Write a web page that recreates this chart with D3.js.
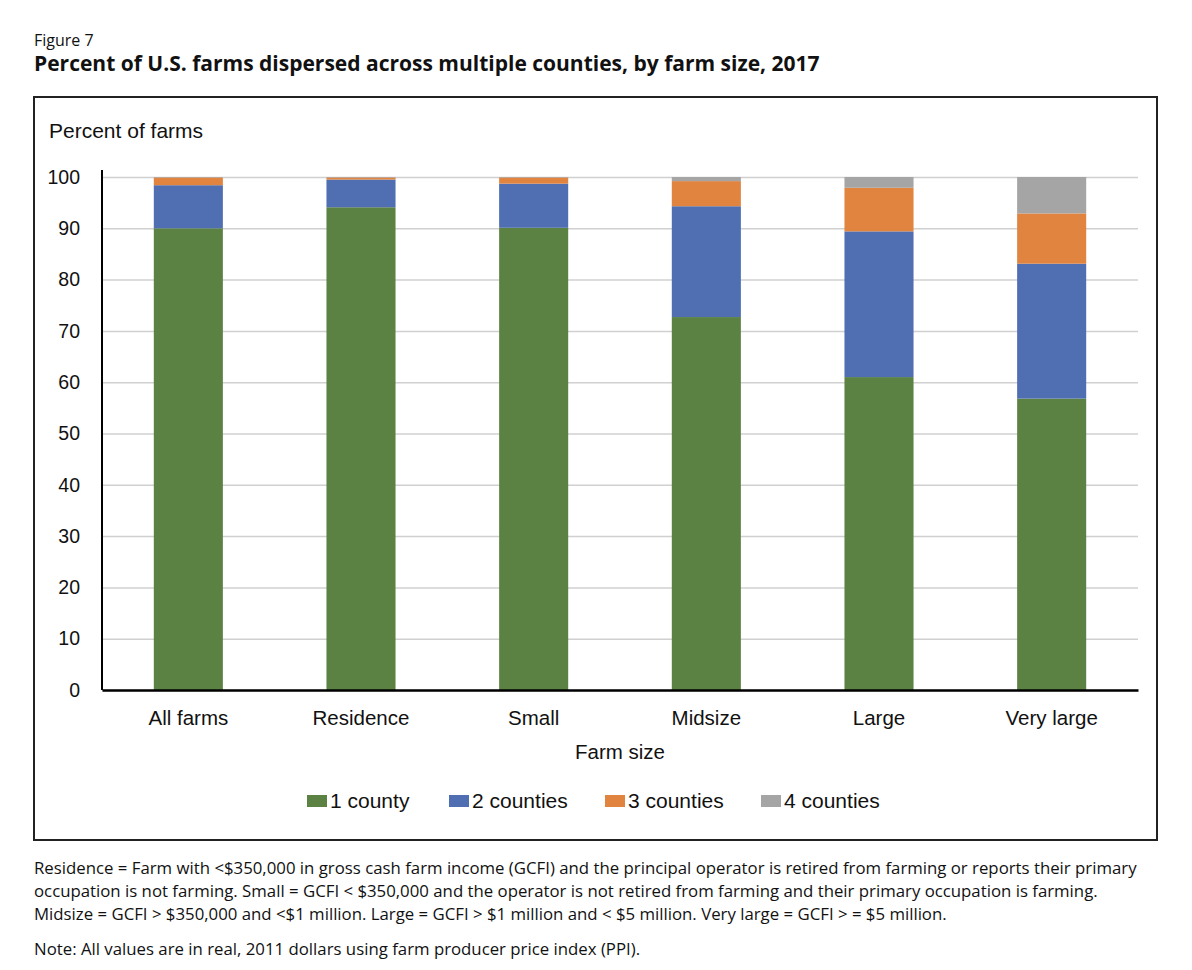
<!DOCTYPE html>
<html>
<head>
<meta charset="utf-8">
<script src="https://cdn.jsdelivr.net/npm/d3@7"></script>
<style>
  body { margin: 0; background: #fff; }
  svg { display: block; }
  .chart-text { font-family: "Liberation Sans", Arial, sans-serif; fill: #111; }
  .doc-text { font-family: "Open Sans", Lato, sans-serif; fill: #111; }
</style>
</head>
<body>
<svg id="chart" width="1192" height="970"></svg>
<script>
const categories = ['All farms', 'Residence', 'Small', 'Midsize', 'Large', 'Very large'];
const seriesNames = ['1 county', '2 counties', '3 counties', '4 counties'];
const oneCounty = [90.0, 94.1, 90.1, 72.7, 61.0, 56.8];
const twoCounties = [8.4, 5.4, 8.6, 21.6, 28.4, 26.3];
const threeCounties = [1.5, 0.4, 1.2, 4.9, 8.5, 9.8];
const fourCounties = [0.1, 0.1, 0.1, 0.8, 2.1, 7.1];
const yTicks = [0, 10, 20, 30, 40, 50, 60, 70, 80, 90, 100];
const colors = ['#5c8243', '#4f6fb2', '#e0843f', '#a5a5a5'];

const notes = [
  'Residence = Farm with <$350,000 in gross cash farm income (GCFI) and the principal operator is retired from farming or reports their primary',
  'occupation is not farming. Small = GCFI < $350,000 and the operator is not retired from farming and their primary occupation is farming.',
  'Midsize = GCFI > $350,000 and <$1 million. Large = GCFI > $1 million and < $5 million. Very large = GCFI > = $5 million.'
];
const note = 'Note: All values are in real, 2011 dollars using farm producer price index (PPI).';

const table = categories.map((c, i) => ({
  category: c,
  '1 county': oneCounty[i],
  '2 counties': twoCounties[i],
  '3 counties': threeCounties[i],
  '4 counties': fourCounties[i]
}));

const svg = d3.select('#chart');

// header
svg.append('text').attr('class', 'doc-text')
  .attr('x', 34).attr('y', 46)
  .attr('font-size', 16)
  .text('Figure 7');

svg.append('text').attr('class', 'doc-text')
  .attr('x', 34).attr('y', 71)
  .attr('font-size', 21).attr('font-weight', 'bold')
  .text('Percent of U.S. farms dispersed across multiple counties, by farm size, 2017');

// frame
svg.append('rect')
  .attr('x', 34).attr('y', 97)
  .attr('width', 1123).attr('height', 743)
  .attr('fill', 'none').attr('stroke', '#222').attr('stroke-width', 2);

const margin = { top: 177, right: 1192 - 1138, bottom: 970 - 690, left: 102 };
const innerWidth = 1192 - margin.left - margin.right;
const innerHeight = 970 - margin.top - margin.bottom;

const xScale = d3.scaleBand()
  .domain(categories)
  .range([0, innerWidth])
  .paddingInner(0.6)
  .paddingOuter(0.3);

const yScale = d3.scaleLinear()
  .domain([0, 100])
  .range([innerHeight, 0]);

const g = svg.append('g')
  .attr('transform', `translate(${margin.left}, ${margin.top})`);

// gridlines
const yAxis = d3.axisLeft(yScale)
  .tickValues(yTicks)
  .tickSize(-innerWidth)
  .tickPadding(22);

const yAxisG = g.append('g').call(yAxis);
yAxisG.select('.domain').remove();
yAxisG.selectAll('line')
  .attr('stroke', '#d0d0d0')
  .attr('stroke-width', 1.5);
yAxisG.selectAll('text')
  .attr('class', 'chart-text')
  .attr('font-size', 19.5)
  .attr('fill', '#111');

// stacked bars
const stack = d3.stack().keys(seriesNames);
const layers = stack(table);

g.selectAll('.layer')
  .data(layers)
  .enter().append('g')
    .attr('class', 'layer')
    .attr('fill', (d, i) => colors[i])
  .selectAll('rect')
  .data(d => d)
  .enter().append('rect')
    .attr('x', d => xScale(d.data.category))
    .attr('y', d => yScale(d[1]))
    .attr('width', xScale.bandwidth())
    .attr('height', d => yScale(d[0]) - yScale(d[1]));

// axis lines
g.append('line')
  .attr('x1', 0).attr('x2', 0)
  .attr('y1', -7).attr('y2', innerHeight)
  .attr('stroke', '#000').attr('stroke-width', 2);

const xAxis = d3.axisBottom(xScale)
  .tickSize(0)
  .tickPadding(20);

const xAxisG = g.append('g')
  .attr('transform', `translate(0, ${innerHeight})`)
  .call(xAxis);
xAxisG.select('.domain')
  .attr('stroke', '#000').attr('stroke-width', 2.5);
xAxisG.selectAll('text')
  .attr('class', 'chart-text')
  .attr('font-size', 20.5)
  .attr('fill', '#111');

// axis titles
svg.append('text').attr('class', 'chart-text')
  .attr('x', 49).attr('y', 138)
  .attr('font-size', 21)
  .text('Percent of farms');

svg.append('text').attr('class', 'chart-text')
  .attr('x', margin.left + innerWidth / 2).attr('y', 759)
  .attr('text-anchor', 'middle')
  .attr('font-size', 20.5)
  .text('Farm size');

// legend
const legendX = [307, 449, 605, 761];
const legend = svg.append('g');
seriesNames.forEach((name, i) => {
  legend.append('rect')
    .attr('x', legendX[i]).attr('y', 795)
    .attr('width', 20).attr('height', 12)
    .attr('fill', colors[i]);
  legend.append('text').attr('class', 'chart-text')
    .attr('x', legendX[i] + 23).attr('y', 808)
    .attr('font-size', 21)
    .text(name);
});

// notes
svg.selectAll('.note-line')
  .data(notes)
  .enter().append('text')
    .attr('class', 'doc-text note-line')
    .attr('x', 34)
    .attr('y', (d, i) => 874 + i * 23)
    .attr('font-size', 16.8)
    .text(d => d);

svg.append('text').attr('class', 'doc-text')
  .attr('x', 34).attr('y', 955)
  .attr('font-size', 16.8)
  .text(note);
</script>
</body>
</html>
